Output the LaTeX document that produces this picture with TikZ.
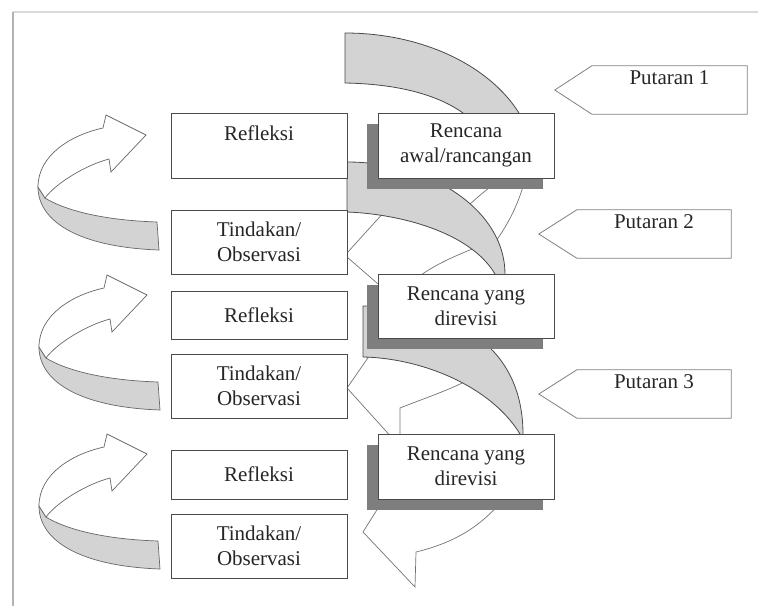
\documentclass[tikz,border=0pt]{standalone}
\usepackage{fontspec}
\setmainfont{Liberation Serif}
\usetikzlibrary{shadows}
\definecolor{bandgray}{HTML}{D3D3D3}
\definecolor{shadowgray}{HTML}{7E7E7E}
\definecolor{edgecol}{HTML}{4A4A4A}
\begin{document}
\begin{tikzpicture}[x=1pt,y=-1pt,
  txt/.style={font=\fontsize{21}{25}\selectfont, text=black!85, align=center},
  box/.style={txt, draw=edgecol, fill=white, line width=0.9pt, minimum width=176pt, inner sep=0pt},
  planbox/.style={box, minimum height=65pt,
     drop shadow={shadow xshift=-11pt, shadow yshift=-11pt, fill=shadowgray, opacity=1}},
  band/.style={fill=bandgray, draw=edgecol, line width=0.8pt},
  backline/.style={draw=black!55, line width=0.7pt},
  tag/.style={txt, minimum width=155pt, minimum height=48pt, inner sep=0pt},
  tagline/.style={draw=black!50, line width=0.8pt, fill=white},
  curl/.pic={
    \filldraw[fill=bandgray, draw=black!60, line width=0.7pt]
      (-101,63) .. controls (-85,73) and (-50,85) .. (11,87) -- (13,115)
      .. controls (-70,112) and (-108,85) .. (-108,52) -- cycle;
    \filldraw[fill=white, draw=black!60, line width=0.7pt]
      (-43,-7) .. controls (-75,0) and (-108,20) .. (-108,52) -- (-101,63)
      .. controls (-90,48) and (-60,30) .. (-37,24) -- (-35,37) -- (0,0)
      -- (-40,-20) -- cycle;
  }]
\useasboundingbox (0,0) rectangle (758,606);
% frame
\draw[black!15, line width=2pt] (13,12) -- (758,12);
\draw[black!30, line width=2pt] (13,12) -- (13,606);

% back lines of the spiral
\coordinate (v1) at (347,255);
\coordinate (v2) at (347,388);
\draw[backline] (347,253) -- (395,200);
\draw[backline] (347,257) -- (385,290);
\draw[backline] (414,280) .. controls (435,264) and (455,256) .. (482,245);
\draw[backline] (493,245) .. controls (508,225) and (518,205) .. (525,180);
\draw[backline] (466,208) .. controls (476,198) and (484,192) .. (494,184);
\draw[backline] (v2) -- (372,352);
\draw[backline] (v2) -- (394,440);
\draw[backline] (400,440) -- (400,408) .. controls (425,398) and (450,390) .. (472,378);
\draw[backline] (380,505) -- (363,532) -- (415,587) -- (416,552)
   .. controls (445,545) and (475,532) .. (498,505);

% gray bands
\filldraw[band] (345,33) .. controls (450,33) and (535,93) .. (535,167) -- (485,167) -- (485,135)
   .. controls (458,96) and (400,84) .. (345,83) -- cycle;
\filldraw[band] (347,162) .. controls (434,162) and (505,212) .. (505,274) -- (505,280) -- (495,280)
   -- (495,274) .. controls (470,232) and (400,214) .. (347,212) -- cycle;
\filldraw[band] (363,306) .. controls (460,306) and (523,350) .. (523,434) -- (523,440) -- (518,440)
   -- (520,434) .. controls (490,385) and (420,358) .. (363,357) -- cycle;

% plan boxes
\node[planbox] (p1) at (466,145.5) {Rencana\\awal/rancangan};
\node[planbox, minimum height=64pt] (p2) at (466,306) {Rencana yang\\direvisi};
\node[planbox] (p3) at (466,466.5) {Rencana yang\\direvisi};

% left boxes
\node[box, minimum height=65pt] (r1) at (259,145.5) {Refleksi\\\mbox{}};
\node[box, minimum height=64pt] (t1) at (259,242) {Tindakan/\\Observasi};
\node[box, minimum height=48pt] (r2) at (259,315) {Refleksi};
\node[box, minimum height=64pt] (t2) at (259,386) {Tindakan/\\Observasi};
\node[box, minimum height=49pt] (r3) at (259,474.5) {Refleksi};
\node[box, minimum height=64pt] (t3) at (259,546) {Tindakan/\\Observasi};

% curved arrows on the left
\pic at (146,135) {curl};
\pic at (147,295) {curl};
\pic at (147,454) {curl};

% Putaran tags
\node[tag] (q1) at (669.5,90) {};
\draw[tagline] ([xshift=-37pt]q1.west) -- (q1.north west) -- (q1.north east) -- (q1.south east) -- (q1.south west) -- cycle;
\node[txt] (q1t) at (q1) {Putaran 1\\\mbox{}};
\node[tag, minimum width=154pt] (q2) at (654,234) {};
\draw[tagline] ([xshift=-38pt]q2.west) -- (q2.north west) -- (q2.north east) -- (q2.south east) -- (q2.south west) -- cycle;
\node[txt] (q2t) at (q2) {Putaran 2\\\mbox{}};
\node[tag, minimum width=154pt] (q3) at (654,394) {};
\draw[tagline] ([xshift=-38pt]q3.west) -- (q3.north west) -- (q3.north east) -- (q3.south east) -- (q3.south west) -- cycle;
\node[txt] (q3t) at (q3) {Putaran 3\\\mbox{}};
\end{tikzpicture}
\end{document}
